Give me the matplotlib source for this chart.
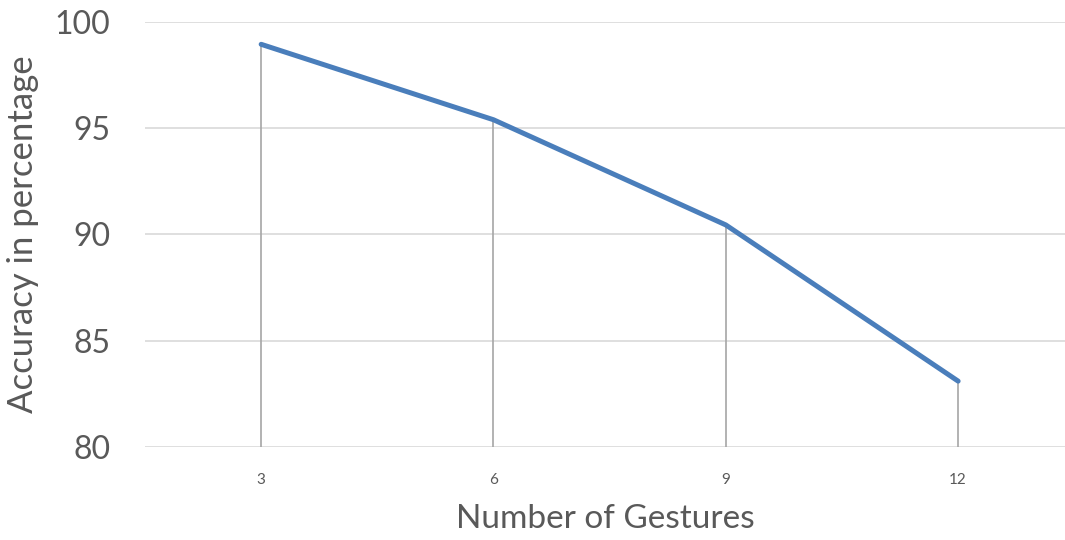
import matplotlib.pyplot as plt

gestures = ["3", "6", "9", "12"]
accuracy = [98.95, 95.4, 90.45, 83.1]

plt.rcParams['font.family'] = ['Lato', 'DejaVu Sans']

fig = plt.figure(figsize=(10.65, 5.4), dpi=100)
ax = fig.add_axes([145 / 1065, 1 - 447 / 540, 1 - 145 / 1065, (447 - 22) / 540])

x = list(range(len(gestures)))

# drop lines from each point down to the axis floor
ax.vlines(x, 80, accuracy, color='#A6A6A6', lw=1.2, zorder=2)
ax.plot(x, accuracy, color='#4A7EBB', lw=3.6, solid_capstyle='round', zorder=3)

ax.set_ylim(80, 100)
ax.set_yticks([80, 85, 90, 95, 100])
ax.set_xlim(-0.5, 3.46)
ax.set_xticks(x)
ax.set_xticklabels(gestures)

ax.grid(axis='y', color='#D9D9D9', lw=1.2)
ax.set_axisbelow(True)
for s in ax.spines.values():
    s.set_visible(False)

ax.tick_params(axis='y', length=0, labelsize=23, labelcolor='#595959', pad=25)
ax.tick_params(axis='x', length=0, labelsize=11, labelcolor='#595959', pad=19)

ax.set_xlabel('Number of Gestures', fontsize=24, color='#595959', labelpad=12)
ax.set_ylabel('Accuracy in percentage', fontsize=25, color='#595959')
ax.yaxis.set_label_coords(-(145 - 39) / (1065 - 145), 0.5)

fig.savefig('out.png', dpi=100)
